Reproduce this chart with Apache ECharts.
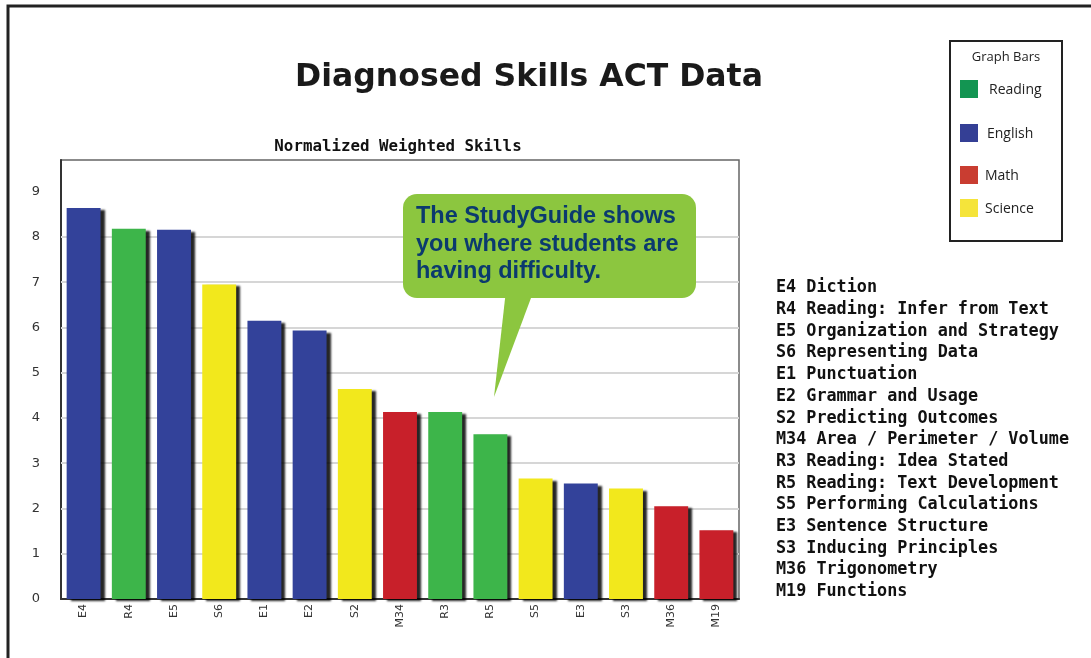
<!DOCTYPE html>
<html>
<head>
<meta charset="utf-8">
<title>Diagnosed Skills ACT Data</title>
<script src="https://cdn.jsdelivr.net/npm/echarts@6/dist/echarts.min.js"></script>
<style>
  html, body { margin: 0; padding: 0; background: #fff; }
  #main { width: 1091px; height: 658px; }
</style>
</head>
<body>
<div id="main"></div>
<script>
  // skill codes, in the order drawn
  var categories = ['E4', 'R4', 'E5', 'S6', 'E1', 'E2', 'S2', 'M34', 'R3', 'R5', 'S5', 'E3', 'S3', 'M36', 'M19'];
  // normalized weighted scores
  var values = [8.64, 8.18, 8.16, 6.95, 6.15, 5.93, 4.64, 4.13, 4.13, 3.64, 2.66, 2.55, 2.44, 2.05, 1.52];
  var skillNames = [
    'E4 Diction',
    'R4 Reading: Infer from Text',
    'E5 Organization and Strategy',
    'S6 Representing Data',
    'E1 Punctuation',
    'E2 Grammar and Usage',
    'S2 Predicting Outcomes',
    'M34 Area / Perimeter / Volume',
    'R3 Reading: Idea Stated',
    'R5 Reading: Text Development',
    'S5 Performing Calculations',
    'E3 Sentence Structure',
    'S3 Inducing Principles',
    'M36 Trigonometry',
    'M19 Functions'
  ];
  var gridLevels = [1, 2, 3, 4, 5, 6, 7, 8];
  var legendNames = ['Reading', 'English', 'Math', 'Science'];
  var legendColors = ['#139552', '#343f95', '#c93d31', '#f5e43a'];
  var calloutLines = ['The StudyGuide shows', 'you where students are', 'having difficulty.'];

  // bar colour by subject letter
  var barColors = { E: '#33429a', R: '#3db54a', M: '#c8202a', S: '#f2e81c' };

  var chart = echarts.init(document.getElementById('main'));

  var barData = values.map(function (v, i) {
    return { value: v, itemStyle: { color: barColors[categories[i].charAt(0)] } };
  });

  var graphics = [];
  // outer page frame
  graphics.push({
    type: 'polyline', silent: true,
    shape: { points: [[8, 660], [8, 6], [1095, 6]] },
    style: { stroke: '#222', lineWidth: 3, fill: null }
  });
  graphics.push({
    type: 'text', x: 529, y: 78,
    style: { text: 'Diagnosed Skills ACT Data', fill: '#1a1a1a', align: 'center', verticalAlign: 'middle',
      font: 'bold 31.5px "DejaVu Sans", sans-serif' }
  });
  graphics.push({
    type: 'text', x: 398, y: 147,
    style: { text: 'Normalized Weighted Skills', fill: '#111', align: 'center', verticalAlign: 'middle',
      font: 'bold 15.8px "DejaVu Sans Mono", monospace' }
  });
  // legend box
  graphics.push({
    type: 'rect', shape: { x: 950, y: 41, width: 112, height: 200 },
    style: { fill: '#fff', stroke: '#222', lineWidth: 2 }
  });
  graphics.push({
    type: 'text', x: 1006, y: 57,
    style: { text: 'Graph Bars', fill: '#222', align: 'center', verticalAlign: 'middle',
      font: '13px "Open Sans", sans-serif' }
  });
  var legendY = [89, 133, 175, 208];
  var legendTextX = [989, 987, 985, 985];
  legendNames.forEach(function (name, i) {
    graphics.push({
      type: 'rect', shape: { x: 960, y: legendY[i] - 9, width: 18, height: 18 },
      style: { fill: legendColors[i] }
    });
    graphics.push({
      type: 'text', x: legendTextX[i], y: legendY[i] + 1,
      style: { text: name, fill: '#222', verticalAlign: 'middle', font: '14px "Open Sans", sans-serif' }
    });
  });
  // skill list on the right
  skillNames.forEach(function (name, i) {
    graphics.push({
      type: 'text', x: 776, y: 288 + i * 21.7,
      style: { text: name, fill: '#111', verticalAlign: 'middle', font: 'bold 16.8px "DejaVu Sans Mono", monospace' }
    });
  });
  // callout bubble
  graphics.push({
    type: 'polygon', z: 10,
    shape: { points: [[506, 290], [534, 290], [494, 397]] },
    style: { fill: '#8cc63f' }
  });
  graphics.push({
    type: 'rect', z: 10,
    shape: { x: 403, y: 194, width: 293, height: 104, r: 14 },
    style: { fill: '#8cc63f' }
  });
  calloutLines.forEach(function (line, i) {
    graphics.push({
      type: 'text', z: 11, x: 416, y: 217 + i * 27.5,
      style: { text: line, fill: '#0b3a6e', verticalAlign: 'middle', font: 'bold 23.5px "Liberation Sans", Arial, sans-serif' }
    });
  });

  chart.setOption({
    animation: false,
    backgroundColor: '#fff',
    grid: {
      left: 61, right: 352, top: 160, bottom: 59,
      show: true, borderColor: '#666', borderWidth: 1.5, backgroundColor: '#fff'
    },
    xAxis: {
      type: 'category',
      data: categories,
      axisLine: { lineStyle: { color: '#333', width: 2 } },
      axisTick: { show: false },
      axisLabel: { rotate: 90, margin: 5, color: '#333', fontSize: 11, fontFamily: 'DejaVu Sans, sans-serif' }
    },
    yAxis: {
      type: 'value',
      min: 0, max: 9.7, interval: 1,
      axisLine: { show: true, lineStyle: { color: '#333', width: 2 } },
      axisTick: { show: false },
      splitLine: { show: false },
      axisLabel: {
        margin: 21, color: '#333', fontSize: 13, fontFamily: 'DejaVu Sans, sans-serif',
        formatter: function (v) { return Number.isInteger(v) ? String(v) : ''; }
      }
    },
    series: [{
      type: 'bar',
      data: barData,
      barWidth: '75%',
      itemStyle: {
        shadowColor: 'rgba(0,0,0,0.85)', shadowBlur: 2, shadowOffsetX: 4, shadowOffsetY: 2
      },
      markLine: {
        silent: true, symbol: 'none', z: 1,
        label: { show: false },
        lineStyle: { color: '#d6d6d6', width: 2, type: 'solid' },
        data: gridLevels.map(function (g) { return { yAxis: g }; })
      },
      z: 3
    }],
    graphic: graphics
  });
</script>
</body>
</html>
